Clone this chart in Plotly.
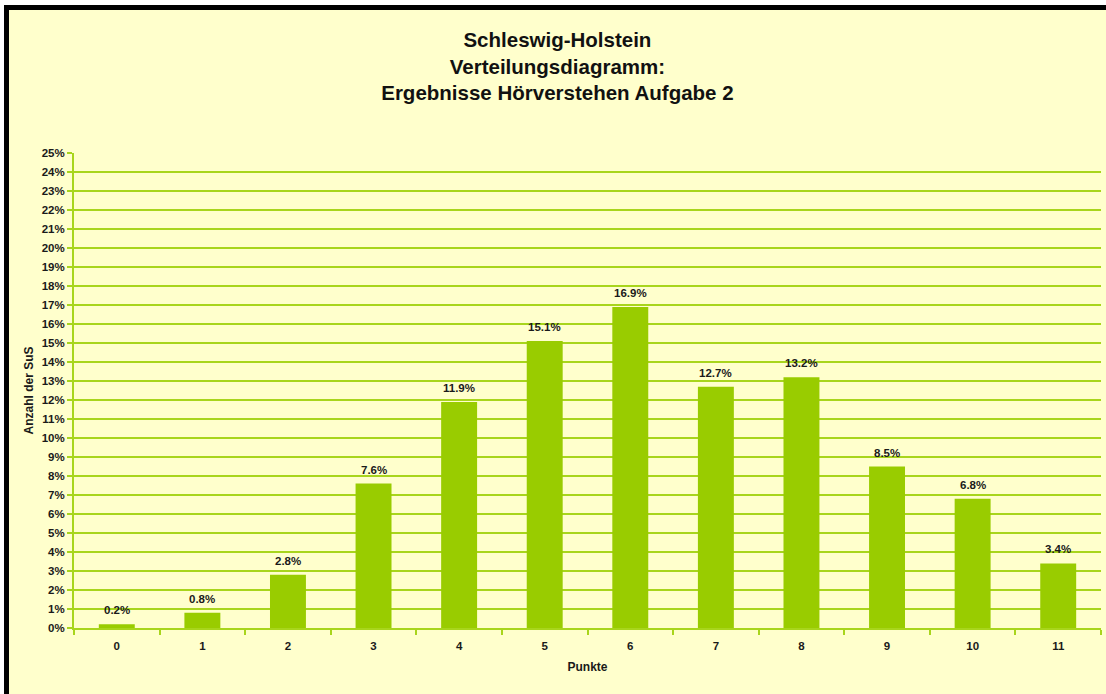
import plotly.graph_objects as go

categories = ["0", "1", "2", "3", "4", "5", "6", "7", "8", "9", "10", "11"]
values = [0.2, 0.8, 2.8, 7.6, 11.9, 15.1, 16.9, 12.7, 13.2, 8.5, 6.8, 3.4]
labels = [f"{v:.1f}%" for v in values]
y_ticks = list(range(0, 26))

W, H = 1106, 694
L, R, T, B = 74, 5, 153, 66
pw, ph = W - L - R, H - T - B

def px(x):
    return (x - L) / pw

def py(y):
    return (H - B - y) / ph

BG = "#FFFFCC"
BAR = "#99CC00"
GRID = "#A8D51C"
FONT = "Liberation Sans, Arial, sans-serif"
TXT = "#1a1a1a"

fig = go.Figure()
fig.add_trace(go.Bar(
    x=categories, y=values, width=0.42,
    marker=dict(color=BAR, line=dict(width=0)),
    hoverinfo="x+y",
))

annotations = [
    dict(x=c, y=v, text=f"<b>{t}</b>", showarrow=False, xref="x", yref="y",
         yanchor="bottom", yshift=6, font=dict(family=FONT, size=11.5, color=TXT))
    for c, v, t in zip(categories, values, labels)
]

shapes = [
    dict(type="rect", xref="paper", yref="paper", x0=px(4), x1=px(W + 10), y0=py(5), y1=py(H + 10),
         fillcolor="#000000", line=dict(width=0), layer="below"),
    dict(type="rect", xref="paper", yref="paper", x0=px(9), x1=px(W + 10), y0=py(10), y1=py(H + 10),
         fillcolor=BG, line=dict(width=0), layer="below"),
]

fig.update_layout(
    width=W, height=H,
    margin=dict(l=L, r=R, t=T, b=B),
    paper_bgcolor="#FFFFFF", plot_bgcolor=BG,
    showlegend=False,
    shapes=shapes,
    annotations=annotations,
    title=dict(
        text="<b>Schleswig-Holstein<br>Verteilungsdiagramm:<br>Ergebnisse Hörverstehen Aufgabe 2</b>",
        x=0.504, xanchor="center", y=1 - 47 / H, yanchor="middle",
        font=dict(family=FONT, size=20.5, color="#111111"),
    ),
    font=dict(family=FONT, color=TXT),
    bargap=0.58,
)

fig.update_xaxes(
    type="category", tickson="boundaries",
    ticks="outside", ticklen=5, tickcolor=GRID, tickwidth=2,
    showline=True, linecolor=GRID, linewidth=2,
    showgrid=False, ticklabelstandoff=6,
    tickfont=dict(family=FONT, size=11.5, color=TXT, weight="bold"),
    title=dict(text="<b>Punkte</b>", font=dict(family=FONT, size=12, color=TXT), standoff=12),
    range=[-0.5, 11.5],
)
fig.update_yaxes(
    range=[0, 25], tickvals=y_ticks, ticktext=[f"{v}%" for v in y_ticks],
    ticks="outside", ticklen=5, tickcolor=GRID, tickwidth=2,
    showline=True, linecolor=GRID, linewidth=2,
    showgrid=True, gridcolor=GRID, gridwidth=1.5,
    zeroline=False,
    tickfont=dict(family=FONT, size=11.5, color=TXT, weight="bold"),
    title=dict(text="<b>Anzahl der SuS</b>", font=dict(family=FONT, size=12, color=TXT), standoff=5),
)

fig.write_html("out.html", config={"displayModeBar": False},
               post_script="document.body.style.margin='0';")
